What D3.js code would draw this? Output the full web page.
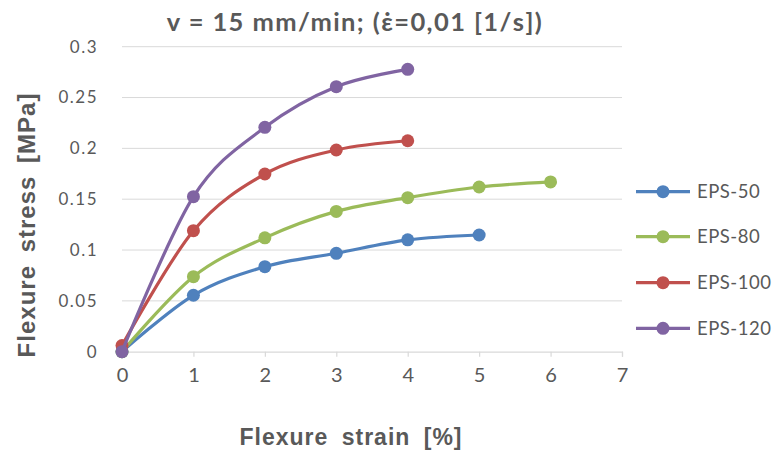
<!DOCTYPE html>
<html><head><meta charset="utf-8">
<script src="https://cdn.jsdelivr.net/npm/d3@7"></script>
<style>body{margin:0;background:#fff}svg{display:block}</style>
</head><body>
<svg id="c" width="779" height="451"></svg>
<script>
const strain = [0, 1, 2, 3, 4, 5, 6];
const seriesNames = ["EPS-50", "EPS-80", "EPS-100", "EPS-120"];
const eps50 = [0, 0.0555, 0.0836, 0.0968, 0.110, 0.1148];
const eps80 = [0, 0.0738, 0.112, 0.138, 0.1515, 0.162, 0.167];
const eps100 = [0.006, 0.119, 0.1748, 0.1984, 0.2075];
const eps120 = [0, 0.1525, 0.2207, 0.2607, 0.2777];
const colors = ["#4F81BD", "#9BBB59", "#C0504D", "#8064A2"];
const xTicks = [0, 1, 2, 3, 4, 5, 6, 7];
const yTicks = [0, 0.05, 0.1, 0.15, 0.2, 0.25, 0.3];
const titleText = "v = 15 mm/min; (\u03B5\u0307=0,01 [1/s])";
const xTitle = "Flexure strain [%]";
const yTitle = "Flexure stress [MPa]";

const svg = d3.select("#c");
const x = d3.scaleLinear().domain([0, 7]).range([122, 622]);
const y = d3.scaleLinear().domain([0, 0.3]).range([351.7, 46.7]);
const font = "Lato, 'Open Sans', sans-serif";
const grey = "#595959";

// gridlines
svg.append("g").selectAll("line").data(yTicks.filter(d => d > 0)).join("line")
  .attr("x1", x(0)).attr("x2", x(7)).attr("y1", d => y(d)).attr("y2", d => y(d))
  .attr("stroke", "#d9d9d9").attr("stroke-width", 1);

// x axis
const xAxis = svg.append("g").attr("transform", `translate(0,${y(0)})`)
  .call(d3.axisBottom(x).tickValues(xTicks).tickSize(5).tickPadding(11).tickFormat(d3.format("d")));
xAxis.select(".domain").attr("stroke", "#d9d9d9").attr("stroke-width", 1.2);
xAxis.selectAll(".tick line").attr("stroke", "#d9d9d9").attr("stroke-width", 1.2);
xAxis.selectAll("text").attr("fill", grey).style("font-family", font).style("font-size", "20px");

// y axis labels
const yAxis = svg.append("g").attr("transform", `translate(${x(0)},0)`)
  .call(d3.axisLeft(y).tickValues(yTicks).tickSize(0).tickPadding(24).tickFormat(d => d3.format("")(+d.toFixed(2))));
yAxis.select(".domain").remove();
yAxis.selectAll("text").attr("fill", grey).style("font-family", font).style("font-size", "17px")
  .style("letter-spacing", "1.5px");

const all = [eps50, eps80, eps100, eps120];
const line = d3.line().x((d, i) => x(strain[i])).y(d => y(d)).curve(d3.curveCardinal.tension(0));

all.forEach((vals, k) => {
  const g = svg.append("g");
  g.append("path").attr("d", line(vals)).attr("fill", "none")
    .attr("stroke", colors[k]).attr("stroke-width", 3.2).attr("stroke-linecap", "round");
  g.selectAll("circle").data(vals).join("circle")
    .attr("cx", (d, i) => x(strain[i])).attr("cy", d => y(d)).attr("r", 6.5)
    .attr("fill", colors[k]);
});

// title
svg.append("text").attr("x", 355).attr("y", 31).attr("text-anchor", "middle")
  .attr("fill", grey).style("font-family", font).style("font-weight", "bold").style("font-size", "25.5px")
  .style("letter-spacing", "1.4px")
  .text(titleText);

// axis titles
svg.append("text").attr("x", 351).attr("y", 445).attr("text-anchor", "middle")
  .attr("fill", grey).style("font-family", "'Liberation Sans', Arial, sans-serif").style("font-weight", "bold").style("font-size", "23px")
  .style("letter-spacing", "1px").style("word-spacing", "6px")
  .text(xTitle);
svg.append("text").attr("transform", "translate(35,225) rotate(-90)").attr("text-anchor", "middle")
  .attr("fill", grey).style("font-family", "'Liberation Sans', Arial, sans-serif").style("font-weight", "bold").style("font-size", "24px")
  .style("letter-spacing", "1px").style("word-spacing", "5px")
  .text(yTitle);

// legend
const legY = [191.7, 236.7, 282.7, 328.3];
const leg = svg.append("g").selectAll("g").data(seriesNames).join("g")
  .attr("transform", (d, i) => `translate(0,${legY[i]})`);
leg.append("line").attr("x1", 636).attr("x2", 690).attr("y1", 0).attr("y2", 0)
  .attr("stroke", (d, i) => colors[i]).attr("stroke-width", 3.2);
leg.append("circle").attr("cx", 663).attr("cy", 0).attr("r", 6.5).attr("fill", (d, i) => colors[i]);
leg.append("text").attr("x", 697).attr("y", 0).attr("dy", "0.35em")
  .attr("fill", grey).style("font-family", font).style("font-size", "18.5px").style("letter-spacing", "0.5px").text(d => d);
</script>
</body></html>
